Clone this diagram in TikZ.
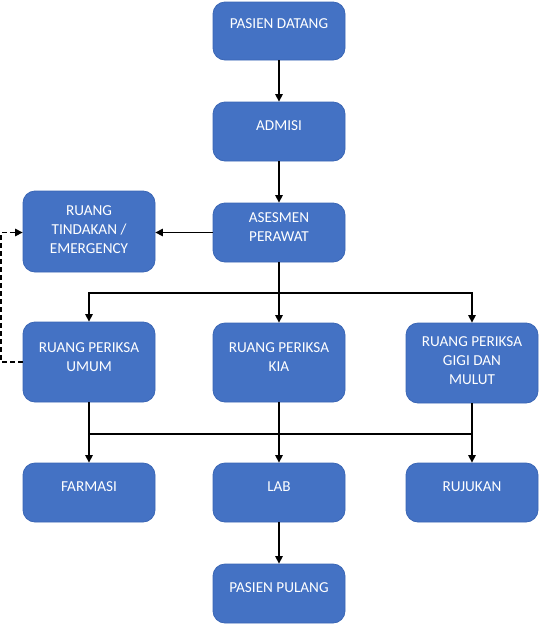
\documentclass[tikz,border=0pt]{standalone}
\usepackage{fontspec}
\setmainfont{Carlito}
\usetikzlibrary{arrows.meta}
\definecolor{boxfill}{HTML}{4472C4}
\definecolor{boxline}{HTML}{3A66B5}
\begin{document}
\begin{tikzpicture}[x=1pt,y=-1pt,
  box/.style={draw=boxline, line width=0.8pt, fill=boxfill, rounded corners=12pt,
    minimum width=132pt, inner sep=0pt},
  txt/.style={text=white, font=\fontsize{15.2}{19}\selectfont, align=center, inner sep=0pt},
  conn/.style={line width=1.3pt, black},
  arr/.style={conn, -{Triangle[width=7.5pt,length=7.5pt]}},
  dsh/.style={arr, dash pattern=on 5pt off 3pt}]
\useasboundingbox (0,0) rectangle (539,625);
\node[box, minimum height=58pt, label={[txt,yshift=7pt]center:PASIEN DATANG}] (p1) at (279,31) {};
\node[box, minimum height=59pt, label={[txt,yshift=6pt]center:ADMISI}] (adm) at (279,131.5) {};
\node[box, minimum height=59pt, label={[txt,yshift=5pt]center:ASESMEN\\PERAWAT}] (ase) at (279,232.5) {};
\node[box, minimum height=81pt, label={[txt,yshift=2pt]center:RUANG\\TINDAKAN /\\EMERGENCY}] (tin) at (89,231.5) {};
\node[box, minimum height=80pt, label={[txt,yshift=5pt]center:RUANG PERIKSA\\UMUM}] (umu) at (89,362) {};
\node[box, minimum height=79pt, label={[txt,yshift=5pt]center:RUANG PERIKSA\\KIA}] (kia) at (279,362.5) {};
\node[box, minimum height=80pt, label={[txt,yshift=2.5pt]center:RUANG PERIKSA\\GIGI DAN\\MULUT}] (gig) at (472,363) {};
\node[box, minimum height=59pt, label={[txt,yshift=6pt]center:FARMASI}] (far) at (89,492.5) {};
\node[box, minimum height=59pt, label={[txt,yshift=6pt]center:LAB}] (lab) at (279,492.5) {};
\node[box, minimum height=59pt, label={[txt,yshift=6pt]center:RUJUKAN}] (ruj) at (472,492.5) {};
\node[box, minimum height=59pt, label={[txt,yshift=6pt]center:PASIEN PULANG}] (pul) at (279,593.5) {};
\coordinate (j1) at (279,293);
\coordinate (j2) at (279,434);
\coordinate (dl) at (1,0);
\draw[arr] (p1) -- (adm);
\draw[arr] (adm) -- (ase);
\draw[arr] (ase.west) -- (tin.east |- ase.west);
\draw[conn] (ase.south) -- (j1);
\draw[arr] (j1) -| (umu.north);
\draw[arr] (j1) -| (gig.north);
\draw[arr] (j1) -- (kia.north);
\draw[conn] (umu.south) -- (umu.south |- j2);
\draw[conn] (kia.south) -- (j2);
\draw[conn] (gig.south) -- (gig.south |- j2);
\draw[conn] (umu.south |- j2) -- (gig.south |- j2);
\draw[arr] (umu.south |- j2) -- (far.north);
\draw[arr] (j2) -- (lab.north);
\draw[arr] (gig.south |- j2) -- (ruj.north);
\draw[arr] (lab) -- (pul);
\draw[dsh] (umu.west) -- (dl |- umu.west) -- (dl |- ase.west) -- (tin.west |- ase.west);
\end{tikzpicture}
\end{document}
